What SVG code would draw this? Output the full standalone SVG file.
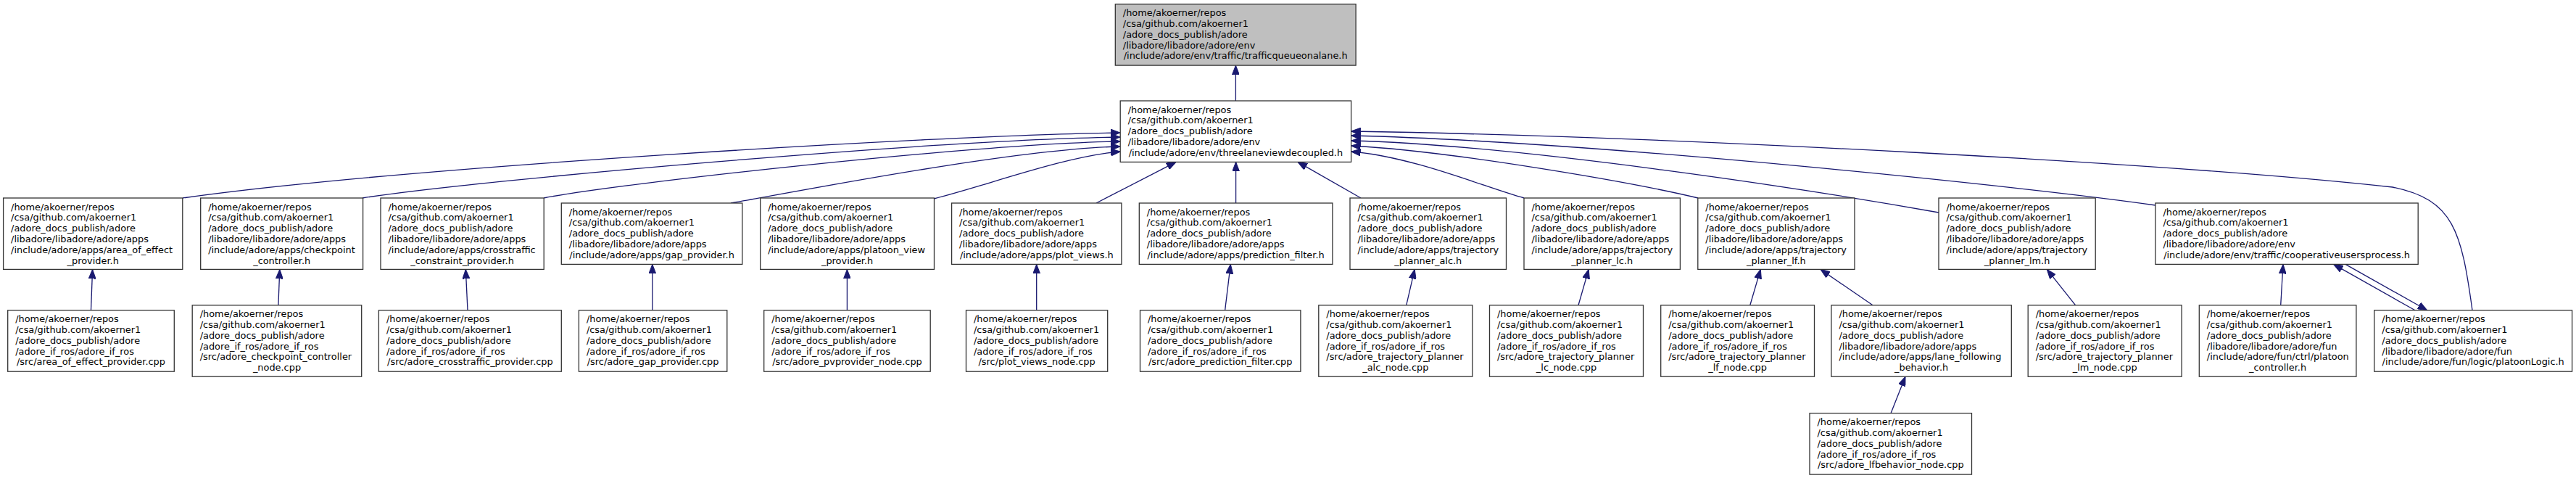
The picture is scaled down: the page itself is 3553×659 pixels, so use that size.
<svg xmlns="http://www.w3.org/2000/svg" width="3553" height="659" viewBox="0 0 3553 659">
<style>
.n rect{fill:#fff;stroke:#333;stroke-width:1.3}
.n.root rect{fill:#bfbfbf}
text{font-family:"DejaVu Sans","Liberation Sans",sans-serif;font-size:12.9px;fill:#000}
.c{text-anchor:middle}
#edges path{fill:none;stroke:#191970;stroke-width:1.3;marker-end:url(#ah)}
</style>
<defs>
<marker id="ah" viewBox="0 0 13 10" refX="13" refY="5" markerWidth="13" markerHeight="10" markerUnits="userSpaceOnUse" orient="auto">
<path d="M0,0 L13,5 L0,10 z" fill="#191970" stroke="#191970" stroke-width="1"/>
</marker>
</defs>
<rect width="3553" height="659" fill="#fff"/>
<g id="edges">
<path d="M1704.4,139 L1704.4,90.1"/>
<path d="M252,273 C550,231 1300,186 1545.2,183"/>
<path d="M500,273 C650,249 1300,192 1545.2,189"/>
<path d="M750,273 C850,253 1350,198 1545.2,195"/>
<path d="M1008,280 C1100,264 1400,205 1545.2,202"/>
<path d="M1288,274 C1360,256 1470,215 1545.2,209"/>
<path d="M1512,280 L1622,223.4"/>
<path d="M1704.6,280 L1704.6,223.4"/>
<path d="M1877,273 L1790,223.4"/>
<path d="M2102,273 C2050,259 1950,216 1863.6,209"/>
<path d="M2342,273 C2250,251 2000,208 1863.6,201"/>
<path d="M2674,293 C2500,262 2100,200 1863.6,194"/>
<path d="M2973,283 C2800,258 2200,195 1863.6,187"/>
<path d="M3410,427.8 C3395,320 3385,275 3300,258 C3000,225 2300,188 1863.6,181"/>
<path d="M125.5,427.8 L127.6,371.4"/>
<path d="M383.9,420.8 L385.8,371.4"/>
<path d="M645,427.8 L642.3,371.4"/>
<path d="M899.8,427.8 L899.8,364.4"/>
<path d="M1168.4,427.8 L1168.4,371.4"/>
<path d="M1429.7,427.8 L1429.7,364.4"/>
<path d="M1689.6,427.8 L1697.3,364.4"/>
<path d="M1939.7,420.8 L1951.2,371.4"/>
<path d="M2177,420.8 L2191.2,371.4"/>
<path d="M2413.8,420.8 L2428.3,371.4"/>
<path d="M2583,420.8 L2511,371.4"/>
<path d="M2862.7,420.8 L2823.3,371.4"/>
<path d="M3145.7,420.8 L3149,364.4"/>
<path d="M3331,427.8 L3218.6,364.4"/>
<path d="M3235,364.4 L3347.7,427.8"/>
<path d="M2608,569.7 L2628,519.2"/>
</g>

<g id="n_trafficqueueonalane" class="n root" transform="translate(1538.3,5.7)"><rect width="331.8" height="84.4"/>
<text x="10.5" y="16.5">/home/akoerner/repos</text><text x="10.5" y="31.3">/csa/github.com/akoerner1</text><text x="10.5" y="46.1">/adore_docs_publish/adore</text><text x="10.5" y="60.9">/libadore/libadore/adore/env</text><text class="c" x="165.9" y="75.7">/include/adore/env/traffic/trafficqueueonalane.h</text></g>

<g id="n_threelaneviewdecoupled" class="n" transform="translate(1545.2,139)"><rect width="318.4" height="84.4"/>
<text x="10.5" y="16.5">/home/akoerner/repos</text><text x="10.5" y="31.3">/csa/github.com/akoerner1</text><text x="10.5" y="46.1">/adore_docs_publish/adore</text><text x="10.5" y="60.9">/libadore/libadore/adore/env</text><text class="c" x="159.2" y="75.7">/include/adore/env/threelaneviewdecoupled.h</text></g>

<g id="n_area_of_effect_provider_h" class="n" transform="translate(4.6,273)"><rect width="247.2" height="98.4"/>
<text x="10.5" y="16.5">/home/akoerner/repos</text><text x="10.5" y="31.3">/csa/github.com/akoerner1</text><text x="10.5" y="46.1">/adore_docs_publish/adore</text><text x="10.5" y="60.9">/libadore/libadore/adore/apps</text><text x="10.5" y="75.7">/include/adore/apps/area_of_effect</text><text class="c" x="123.6" y="90.5">_provider.h</text></g>

<g id="n_checkpoint_controller_h" class="n" transform="translate(276.7,273)"><rect width="223.9" height="98.4"/>
<text x="10.5" y="16.5">/home/akoerner/repos</text><text x="10.5" y="31.3">/csa/github.com/akoerner1</text><text x="10.5" y="46.1">/adore_docs_publish/adore</text><text x="10.5" y="60.9">/libadore/libadore/adore/apps</text><text x="10.5" y="75.7">/include/adore/apps/checkpoint</text><text class="c" x="112" y="90.5">_controller.h</text></g>

<g id="n_crosstraffic_constraint_provider_h" class="n" transform="translate(525,273)"><rect width="225.2" height="98.4"/>
<text x="10.5" y="16.5">/home/akoerner/repos</text><text x="10.5" y="31.3">/csa/github.com/akoerner1</text><text x="10.5" y="46.1">/adore_docs_publish/adore</text><text x="10.5" y="60.9">/libadore/libadore/adore/apps</text><text x="10.5" y="75.7">/include/adore/apps/crosstraffic</text><text class="c" x="112.6" y="90.5">_constraint_provider.h</text></g>

<g id="n_gap_provider_h" class="n" transform="translate(774.3,280)"><rect width="249.5" height="84.4"/>
<text x="10.5" y="16.5">/home/akoerner/repos</text><text x="10.5" y="31.3">/csa/github.com/akoerner1</text><text x="10.5" y="46.1">/adore_docs_publish/adore</text><text x="10.5" y="60.9">/libadore/libadore/adore/apps</text><text class="c" x="124.8" y="75.7">/include/adore/apps/gap_provider.h</text></g>

<g id="n_platoon_view_provider_h" class="n" transform="translate(1048.7,273)"><rect width="239.8" height="98.4"/>
<text x="10.5" y="16.5">/home/akoerner/repos</text><text x="10.5" y="31.3">/csa/github.com/akoerner1</text><text x="10.5" y="46.1">/adore_docs_publish/adore</text><text x="10.5" y="60.9">/libadore/libadore/adore/apps</text><text x="10.5" y="75.7">/include/adore/apps/platoon_view</text><text class="c" x="119.9" y="90.5">_provider.h</text></g>

<g id="n_plot_views_h" class="n" transform="translate(1312.6,280)"><rect width="234.3" height="84.4"/>
<text x="10.5" y="16.5">/home/akoerner/repos</text><text x="10.5" y="31.3">/csa/github.com/akoerner1</text><text x="10.5" y="46.1">/adore_docs_publish/adore</text><text x="10.5" y="60.9">/libadore/libadore/adore/apps</text><text class="c" x="117.2" y="75.7">/include/adore/apps/plot_views.h</text></g>

<g id="n_prediction_filter_h" class="n" transform="translate(1571.3,280)"><rect width="266.6" height="84.4"/>
<text x="10.5" y="16.5">/home/akoerner/repos</text><text x="10.5" y="31.3">/csa/github.com/akoerner1</text><text x="10.5" y="46.1">/adore_docs_publish/adore</text><text x="10.5" y="60.9">/libadore/libadore/adore/apps</text><text class="c" x="133.3" y="75.7">/include/adore/apps/prediction_filter.h</text></g>

<g id="n_trajectory_planner_alc_h" class="n" transform="translate(1862,273)"><rect width="215.5" height="98.4"/>
<text x="10.5" y="16.5">/home/akoerner/repos</text><text x="10.5" y="31.3">/csa/github.com/akoerner1</text><text x="10.5" y="46.1">/adore_docs_publish/adore</text><text x="10.5" y="60.9">/libadore/libadore/adore/apps</text><text x="10.5" y="75.7">/include/adore/apps/trajectory</text><text class="c" x="107.8" y="90.5">_planner_alc.h</text></g>

<g id="n_trajectory_planner_lc_h" class="n" transform="translate(2102,273)"><rect width="215.4" height="98.4"/>
<text x="10.5" y="16.5">/home/akoerner/repos</text><text x="10.5" y="31.3">/csa/github.com/akoerner1</text><text x="10.5" y="46.1">/adore_docs_publish/adore</text><text x="10.5" y="60.9">/libadore/libadore/adore/apps</text><text x="10.5" y="75.7">/include/adore/apps/trajectory</text><text class="c" x="107.7" y="90.5">_planner_lc.h</text></g>

<g id="n_trajectory_planner_lf_h" class="n" transform="translate(2341.8,273)"><rect width="216.2" height="98.4"/>
<text x="10.5" y="16.5">/home/akoerner/repos</text><text x="10.5" y="31.3">/csa/github.com/akoerner1</text><text x="10.5" y="46.1">/adore_docs_publish/adore</text><text x="10.5" y="60.9">/libadore/libadore/adore/apps</text><text x="10.5" y="75.7">/include/adore/apps/trajectory</text><text class="c" x="108.1" y="90.5">_planner_lf.h</text></g>

<g id="n_trajectory_planner_lm_h" class="n" transform="translate(2674,273)"><rect width="216.2" height="98.4"/>
<text x="10.5" y="16.5">/home/akoerner/repos</text><text x="10.5" y="31.3">/csa/github.com/akoerner1</text><text x="10.5" y="46.1">/adore_docs_publish/adore</text><text x="10.5" y="60.9">/libadore/libadore/adore/apps</text><text x="10.5" y="75.7">/include/adore/apps/trajectory</text><text class="c" x="108.1" y="90.5">_planner_lm.h</text></g>

<g id="n_cooperativeusersprocess_h" class="n" transform="translate(2972.9,280)"><rect width="362.3" height="84.4"/>
<text x="10.5" y="16.5">/home/akoerner/repos</text><text x="10.5" y="31.3">/csa/github.com/akoerner1</text><text x="10.5" y="46.1">/adore_docs_publish/adore</text><text x="10.5" y="60.9">/libadore/libadore/adore/env</text><text class="c" x="181.2" y="75.7">/include/adore/env/traffic/cooperativeusersprocess.h</text></g>

<g id="n_area_of_effect_provider_cpp" class="n" transform="translate(10.7,427.8)"><rect width="229.6" height="84.4"/>
<text x="10.5" y="16.5">/home/akoerner/repos</text><text x="10.5" y="31.3">/csa/github.com/akoerner1</text><text x="10.5" y="46.1">/adore_docs_publish/adore</text><text x="10.5" y="60.9">/adore_if_ros/adore_if_ros</text><text class="c" x="114.8" y="75.7">/src/area_of_effect_provider.cpp</text></g>

<g id="n_checkpoint_controller_node_cpp" class="n" transform="translate(265.2,420.8)"><rect width="233.5" height="98.4"/>
<text x="10.5" y="16.5">/home/akoerner/repos</text><text x="10.5" y="31.3">/csa/github.com/akoerner1</text><text x="10.5" y="46.1">/adore_docs_publish/adore</text><text x="10.5" y="60.9">/adore_if_ros/adore_if_ros</text><text x="10.5" y="75.7">/src/adore_checkpoint_controller</text><text class="c" x="116.8" y="90.5">_node.cpp</text></g>

<g id="n_crosstraffic_provider_cpp" class="n" transform="translate(522.4,427.8)"><rect width="251.9" height="84.4"/>
<text x="10.5" y="16.5">/home/akoerner/repos</text><text x="10.5" y="31.3">/csa/github.com/akoerner1</text><text x="10.5" y="46.1">/adore_docs_publish/adore</text><text x="10.5" y="60.9">/adore_if_ros/adore_if_ros</text><text class="c" x="126" y="75.7">/src/adore_crosstraffic_provider.cpp</text></g>

<g id="n_gap_provider_cpp" class="n" transform="translate(798.4,427.8)"><rect width="204.4" height="84.4"/>
<text x="10.5" y="16.5">/home/akoerner/repos</text><text x="10.5" y="31.3">/csa/github.com/akoerner1</text><text x="10.5" y="46.1">/adore_docs_publish/adore</text><text x="10.5" y="60.9">/adore_if_ros/adore_if_ros</text><text class="c" x="102.2" y="75.7">/src/adore_gap_provider.cpp</text></g>

<g id="n_pvprovider_node_cpp" class="n" transform="translate(1053.7,427.8)"><rect width="229.5" height="84.4"/>
<text x="10.5" y="16.5">/home/akoerner/repos</text><text x="10.5" y="31.3">/csa/github.com/akoerner1</text><text x="10.5" y="46.1">/adore_docs_publish/adore</text><text x="10.5" y="60.9">/adore_if_ros/adore_if_ros</text><text class="c" x="114.8" y="75.7">/src/adore_pvprovider_node.cpp</text></g>

<g id="n_plot_views_node_cpp" class="n" transform="translate(1332.5,427.8)"><rect width="195.2" height="84.4"/>
<text x="10.5" y="16.5">/home/akoerner/repos</text><text x="10.5" y="31.3">/csa/github.com/akoerner1</text><text x="10.5" y="46.1">/adore_docs_publish/adore</text><text x="10.5" y="60.9">/adore_if_ros/adore_if_ros</text><text class="c" x="97.6" y="75.7">/src/plot_views_node.cpp</text></g>

<g id="n_prediction_filter_cpp" class="n" transform="translate(1572.5,427.8)"><rect width="221.4" height="84.4"/>
<text x="10.5" y="16.5">/home/akoerner/repos</text><text x="10.5" y="31.3">/csa/github.com/akoerner1</text><text x="10.5" y="46.1">/adore_docs_publish/adore</text><text x="10.5" y="60.9">/adore_if_ros/adore_if_ros</text><text class="c" x="110.7" y="75.7">/src/adore_prediction_filter.cpp</text></g>

<g id="n_trajectory_planner_alc_node_cpp" class="n" transform="translate(1818.8,420.8)"><rect width="212" height="98.4"/>
<text x="10.5" y="16.5">/home/akoerner/repos</text><text x="10.5" y="31.3">/csa/github.com/akoerner1</text><text x="10.5" y="46.1">/adore_docs_publish/adore</text><text x="10.5" y="60.9">/adore_if_ros/adore_if_ros</text><text x="10.5" y="75.7">/src/adore_trajectory_planner</text><text class="c" x="106" y="90.5">_alc_node.cpp</text></g>

<g id="n_trajectory_planner_lc_node_cpp" class="n" transform="translate(2054.5,420.8)"><rect width="212" height="98.4"/>
<text x="10.5" y="16.5">/home/akoerner/repos</text><text x="10.5" y="31.3">/csa/github.com/akoerner1</text><text x="10.5" y="46.1">/adore_docs_publish/adore</text><text x="10.5" y="60.9">/adore_if_ros/adore_if_ros</text><text x="10.5" y="75.7">/src/adore_trajectory_planner</text><text class="c" x="106" y="90.5">_lc_node.cpp</text></g>

<g id="n_trajectory_planner_lf_node_cpp" class="n" transform="translate(2290.7,420.8)"><rect width="211.8" height="98.4"/>
<text x="10.5" y="16.5">/home/akoerner/repos</text><text x="10.5" y="31.3">/csa/github.com/akoerner1</text><text x="10.5" y="46.1">/adore_docs_publish/adore</text><text x="10.5" y="60.9">/adore_if_ros/adore_if_ros</text><text x="10.5" y="75.7">/src/adore_trajectory_planner</text><text class="c" x="105.9" y="90.5">_lf_node.cpp</text></g>

<g id="n_lane_following_behavior_h" class="n" transform="translate(2525.9,420.8)"><rect width="248.4" height="98.4"/>
<text x="10.5" y="16.5">/home/akoerner/repos</text><text x="10.5" y="31.3">/csa/github.com/akoerner1</text><text x="10.5" y="46.1">/adore_docs_publish/adore</text><text x="10.5" y="60.9">/libadore/libadore/adore/apps</text><text x="10.5" y="75.7">/include/adore/apps/lane_following</text><text class="c" x="124.2" y="90.5">_behavior.h</text></g>

<g id="n_trajectory_planner_lm_node_cpp" class="n" transform="translate(2797.2,420.8)"><rect width="211.9" height="98.4"/>
<text x="10.5" y="16.5">/home/akoerner/repos</text><text x="10.5" y="31.3">/csa/github.com/akoerner1</text><text x="10.5" y="46.1">/adore_docs_publish/adore</text><text x="10.5" y="60.9">/adore_if_ros/adore_if_ros</text><text x="10.5" y="75.7">/src/adore_trajectory_planner</text><text class="c" x="106" y="90.5">_lm_node.cpp</text></g>

<g id="n_platoon_controller_h" class="n" transform="translate(3033.3,420.8)"><rect width="216.6" height="98.4"/>
<text x="10.5" y="16.5">/home/akoerner/repos</text><text x="10.5" y="31.3">/csa/github.com/akoerner1</text><text x="10.5" y="46.1">/adore_docs_publish/adore</text><text x="10.5" y="60.9">/libadore/libadore/adore/fun</text><text x="10.5" y="75.7">/include/adore/fun/ctrl/platoon</text><text class="c" x="108.3" y="90.5">_controller.h</text></g>

<g id="n_platoonLogic_h" class="n" transform="translate(3274.8,427.8)"><rect width="272.8" height="84.4"/>
<text x="10.5" y="16.5">/home/akoerner/repos</text><text x="10.5" y="31.3">/csa/github.com/akoerner1</text><text x="10.5" y="46.1">/adore_docs_publish/adore</text><text x="10.5" y="60.9">/libadore/libadore/adore/fun</text><text class="c" x="136.4" y="75.7">/include/adore/fun/logic/platoonLogic.h</text></g>

<g id="n_lfbehavior_node_cpp" class="n" transform="translate(2496,569.7)"><rect width="223.5" height="84.4"/>
<text x="10.5" y="16.5">/home/akoerner/repos</text><text x="10.5" y="31.3">/csa/github.com/akoerner1</text><text x="10.5" y="46.1">/adore_docs_publish/adore</text><text x="10.5" y="60.9">/adore_if_ros/adore_if_ros</text><text class="c" x="111.8" y="75.7">/src/adore_lfbehavior_node.cpp</text></g>
</svg>
